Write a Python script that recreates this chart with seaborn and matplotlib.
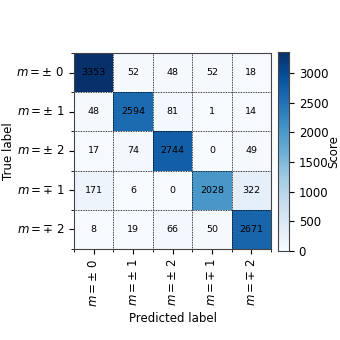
import numpy as np
import pandas as pd
import matplotlib
matplotlib.use('Agg')
import matplotlib.pyplot as plt
import seaborn as sns

classes = [r'$m=\pm$ 0', r'$m=\pm$ 1', r'$m=\pm$ 2', r'$m=\mp$ 1', r'$m=\mp$ 2']
row_0 = [3353, 52, 48, 52, 18]
row_1 = [48, 2594, 81, 1, 14]
row_2 = [17, 74, 2744, 0, 49]
row_3 = [171, 6, 0, 2028, 322]
row_4 = [8, 19, 66, 50, 2671]

cm = pd.DataFrame([row_0, row_1, row_2, row_3, row_4], index=classes, columns=classes)

fig = plt.figure(figsize=(3.4, 3.4), dpi=100)
ax = fig.add_axes([0.218, 0.268, 0.579, 0.576])
cax = fig.add_axes([0.818, 0.262, 0.032, 0.585])

sns.heatmap(cm, ax=ax, cbar_ax=cax, cmap='Blues', vmin=0, vmax=cm.values.max(),
            annot=True, fmt='d', annot_kws={'fontsize': 6.8, 'color': 'black'},
            cbar_kws={'label': 'Score'})

n = len(classes)
ax.set_xticks(np.arange(n) + 0.5)
ax.set_yticks(np.arange(n) + 0.5)
ax.set_xticklabels(classes, rotation=90, fontsize=8.5)
ax.set_yticklabels(classes, rotation=0, fontsize=8.5)
ax.set_xticks(np.arange(n + 1), minor=True)
ax.set_yticks(np.arange(n + 1), minor=True)
ax.grid(which='minor', color='black', linestyle=(0, (1, 1)), linewidth=0.6)
ax.tick_params(which='minor', length=2)
ax.tick_params(which='major', length=3.5)
ax.set_xlabel('Predicted label', fontsize=8.5)
ax.set_ylabel('True label', fontsize=8.5, labelpad=1)
for s in ax.spines.values():
    s.set_visible(True)
    s.set_color('#444444')

cax.tick_params(labelsize=8.5)
cax.yaxis.label.set_size(8.5)
cax.yaxis.labelpad = -1
cax.set_yticks([0, 500, 1000, 1500, 2000, 2500, 3000])
for s in cax.spines.values():
    s.set_visible(True)
    s.set_color('#444444')

fig.savefig('out.png', dpi=100)
